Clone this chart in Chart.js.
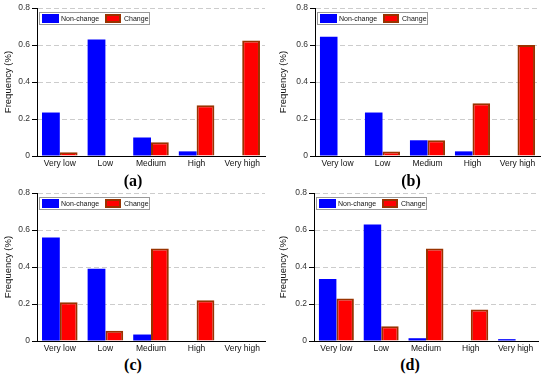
<!DOCTYPE html>
<html>
<head>
<meta charset="utf-8">
<script src="https://cdn.jsdelivr.net/npm/chart.js@4.4.0/dist/chart.umd.min.js"></script>
<style>
  body { margin: 0; background: #fff; }
  #page { position: relative; width: 550px; height: 375px; overflow: hidden; }
  .panel { position: absolute; width: 275px; height: 168px; }
  .caption { position: absolute; font-family: "Liberation Serif", "DejaVu Serif", serif; font-weight: bold; font-size: 16px; color: #000; transform: translate(-50%, -50%); }
</style>
</head>
<body>
<div id="page">
  <div class="panel" style="left:0;top:0"><canvas id="chart-a"></canvas></div>
  <div class="panel" style="left:275px;top:0"><canvas id="chart-b"></canvas></div>
  <div class="panel" style="left:0;top:185px"><canvas id="chart-c"></canvas></div>
  <div class="panel" style="left:275px;top:185px"><canvas id="chart-d"></canvas></div>
  <div class="caption" style="left:133px;top:181px">(a)</div>
  <div class="caption" style="left:411px;top:181px">(b)</div>
  <div class="caption" style="left:133px;top:365px">(c)</div>
  <div class="caption" style="left:410px;top:365px">(d)</div>
</div>
<script>
const categories = ['Very low', 'Low', 'Medium', 'High', 'Very high'];
const yTicks = [0, 0.2, 0.4, 0.6, 0.8];

// values, one pair per panel
const nonChangeA = [0.235, 0.63, 0.10, 0.025, 0];
const changeA = [0.02, 0, 0.075, 0.275, 0.625];
const nonChangeB = [0.645, 0.235, 0.085, 0.025, 0];
const changeB = [0, 0.025, 0.085, 0.285, 0.60];
const nonChangeC = [0.56, 0.39, 0.035, 0, 0];
const changeC = [0.21, 0.055, 0.50, 0.22, 0];
const nonChangeD = [0.335, 0.63, 0.015, 0, 0.01];
const changeD = [0.23, 0.08, 0.50, 0.17, 0.003];

const blue = '#0000ff';
const red = '#ff0000';
const redEdge = '#993300';
const fontFamily = '"Liberation Sans", Arial, sans-serif';

/* small boxed legend drawn inside the plot area, top-left */
const boxLegend = {
  id: 'boxLegend',
  afterDraw(chart) {
    const ctx = chart.ctx;
    const x = chart.chartArea.left + 2;
    const y = chart.chartArea.top + 4;
    ctx.save();
    ctx.fillStyle = '#fff';
    ctx.fillRect(x, y, 110, 12);
    ctx.strokeStyle = '#999';
    ctx.lineWidth = 1;
    ctx.strokeRect(x + 0.5, y + 0.5, 110, 12);
    ctx.fillStyle = blue;
    ctx.fillRect(x + 3, y + 2, 17, 9);
    ctx.fillStyle = redEdge;
    ctx.fillRect(x + 66, y + 2, 16, 9);
    ctx.fillStyle = red;
    ctx.fillRect(x + 68, y + 4, 12, 5);
    ctx.fillStyle = '#111';
    ctx.font = '7px ' + fontFamily;
    ctx.textBaseline = 'middle';
    ctx.fillText('Non-change', x + 22, y + 7);
    ctx.fillText('Change', x + 85, y + 7);
    ctx.restore();
  }
};

function drawPanel(canvasId, nonChange, change, axisWidth, rightPad) {
  new Chart(document.getElementById(canvasId), {
    type: 'bar',
    data: {
      labels: categories,
      datasets: [
        {
          label: 'Non-change',
          data: nonChange,
          backgroundColor: blue,
          borderWidth: 0
        },
        {
          label: 'Change',
          data: change,
          backgroundColor: red,
          borderColor: redEdge,
          borderWidth: 2
        }
      ]
    },
    options: {
      responsive: false,
      animation: false,
      layout: { padding: { top: 8, right: rightPad, left: 0, bottom: 0 } },
      plugins: { legend: { display: false }, tooltip: { enabled: false } },
      datasets: { bar: { categoryPercentage: 0.78, barPercentage: 1 } },
      scales: {
        x: {
          grid: { color: 'rgba(0,0,0,0)', drawTicks: false },
          border: { color: '#000', width: 1 },
          ticks: { color: '#111', padding: 3, font: { family: fontFamily, size: 8.5 }, maxRotation: 0 },
          afterFit: (scale) => { scale.height = 12; }
        },
        y: {
          min: 0,
          max: 0.8,
          afterBuildTicks: (scale) => { scale.ticks = yTicks.map(v => ({ value: v })); },
          grid: { color: '#cccccc', tickColor: '#000', tickLength: 5, tickBorderDash: [] },
          border: { color: '#000', width: 1, dash: [5, 3] },
          ticks: {
            color: '#333',
            padding: 2,
            font: { family: fontFamily, size: 8.5 },
            callback: (v) => v === 0 ? '0' : v.toFixed(1)
          },
          title: {
            display: true,
            text: 'Frequency (%)',
            color: '#111',
            padding: { top: 3, bottom: 0 },
            font: { family: fontFamily, size: 9.5 }
          },
          afterFit: (scale) => { scale.width = axisWidth; }
        }
      }
    },
    plugins: [boxLegend]
  });
}

for (const id of ['chart-a', 'chart-b', 'chart-c', 'chart-d']) {
  const c = document.getElementById(id);
  c.width = 275;
  c.height = 168;
}

drawPanel('chart-a', nonChangeA, changeA, 37, 10);
drawPanel('chart-b', nonChangeB, changeB, 40, 10);
drawPanel('chart-c', nonChangeC, changeC, 37, 10);
drawPanel('chart-d', nonChangeD, changeD, 39, 12);
</script>
</body>
</html>
